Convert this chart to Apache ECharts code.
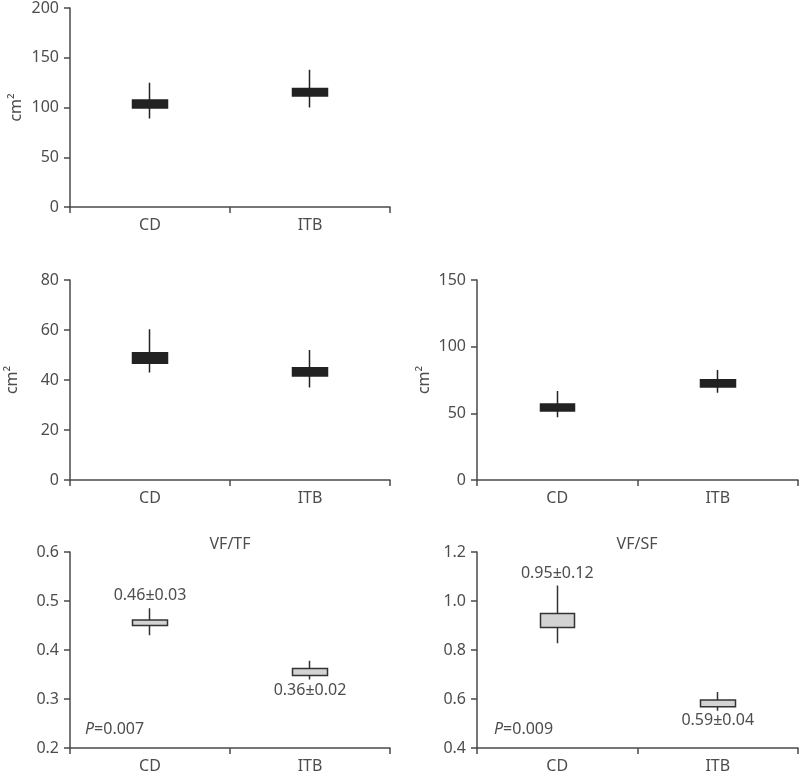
<!DOCTYPE html>
<html>
<head>
<meta charset="utf-8">
<script src="https://cdn.jsdelivr.net/npm/echarts@6/dist/echarts.min.js"></script>
<style>
html,body{margin:0;padding:0;background:#fff;}
#main{width:799px;height:774px;}
</style>
</head>
<body>
<div id="main"></div>
<script>
// ---- data ----
var categories = ['CD', 'ITB'];
// candlestick format: [boxBottom, boxTop, whiskerLow, whiskerHigh]
var totalFat = [[99.5, 107.5, 89, 125], [111.5, 119, 100, 138]];
var visceralFat = [[46.7, 50.9, 43, 60.3], [41.6, 44.9, 37, 52]];
var subcutFat = [[51.8, 57, 47, 66.7], [69.8, 75.2, 65.5, 82.5]];
var vfTf = [[0.450, 0.461, 0.430, 0.485], [0.348, 0.362, 0.340, 0.378]];
var vfSf = [[0.892, 0.949, 0.828, 1.063], [0.568, 0.596, 0.552, 0.629]];
var vfTfLabels = ['0.46\u00b10.03', '0.36\u00b10.02'];
var vfTfLabelPos = [0.512, 0.318];
var vfSfLabels = ['0.95\u00b10.12', '0.59\u00b10.04'];
var vfSfLabelPos = [1.112, 0.513];
var pValues = ['0.007', '0.009'];
var panelTitles = ['VF/TF', 'VF/SF'];
var yTicks = [
  {min: 0, max: 200, interval: 50},
  {min: 0, max: 80, interval: 20},
  {min: 0, max: 150, interval: 50},
  {min: 0.2, max: 0.6, interval: 0.1},
  {min: 0.4, max: 1.2, interval: 0.2}
];

// ---- layout ----
var FONT = 'Noto Sans';
var TXT = '#4d4d4d';
var AX = '#4a4a4a';
var grids = [
  {left: 70, top: 7, width: 320, height: 200},
  {left: 70, top: 280, width: 320, height: 200},
  {left: 477, top: 280, width: 321, height: 200},
  {left: 70, top: 552, width: 320, height: 201},
  {left: 477, top: 552, width: 321, height: 201}
];
var decimals = [0, 0, 0, 1, 1];
var names = ['cm\u00b2', 'cm\u00b2', 'cm\u00b2', '', ''];
var nameGaps = [46, 50, 45, 0, 0];

var xAxes = [], yAxes = [], series = [];
grids.forEach(function (g, i) {
  xAxes.push({
    type: 'category', gridIndex: i, data: categories,
    axisLine: {lineStyle: {color: AX, width: 1.5}},
    axisTick: {show: true, length: 6, lineStyle: {color: AX, width: 1.5}},
    axisLabel: {color: TXT, fontSize: 16, fontFamily: FONT, margin: 10},
    splitLine: {show: false}
  });
  var t = yTicks[i];
  yAxes.push({
    type: 'value', gridIndex: i, min: t.min, max: t.max, interval: t.interval,
    name: names[i], nameLocation: 'middle', nameGap: nameGaps[i], nameRotate: 90,
    nameTextStyle: {color: TXT, fontSize: 16, fontFamily: FONT},
    axisLine: {show: true, lineStyle: {color: AX, width: 1.5}},
    axisTick: {show: true, length: 6, lineStyle: {color: AX, width: 1.5}},
    axisLabel: {
      color: TXT, fontSize: 16, fontFamily: FONT, margin: 11,
      formatter: (function (d) { return function (v) { return v.toFixed(d); }; })(decimals[i])
    },
    splitLine: {show: false}
  });
});

var datasets = [totalFat, visceralFat, subcutFat, vfTf, vfSf];
datasets.forEach(function (d, i) {
  var light = i >= 3;
  series.push({
    type: 'candlestick', xAxisIndex: i, yAxisIndex: i,
    barWidth: 35,
    data: d,
    itemStyle: {
      color: light ? '#d3d3d3' : '#222',
      color0: light ? '#d3d3d3' : '#222',
      borderColor: light ? '#333' : '#222',
      borderColor0: light ? '#333' : '#222',
      borderWidth: 1.5
    },
    silent: true
  });
});

function labelSeries(idx, labels, pos) {
  return {
    type: 'scatter', xAxisIndex: idx, yAxisIndex: idx,
    symbolSize: 0, silent: true,
    itemStyle: {opacity: 1},
    data: categories.map(function (c, k) {
      return {value: [c, pos[k]], label: {formatter: labels[k]}};
    }),
    label: {show: true, position: 'inside', color: TXT, opacity: 1, fontSize: 16, fontFamily: FONT}
  };
}
series.push(labelSeries(3, vfTfLabels, vfTfLabelPos));
series.push(labelSeries(4, vfSfLabels, vfSfLabelPos));

var titles = [
  {text: panelTitles[0], left: 230, top: 536, textAlign: 'center'},
  {text: panelTitles[1], left: 637, top: 536, textAlign: 'center'},
  {text: '{i|P}=' + pValues[0], left: 85, top: 721},
  {text: '{i|P}=' + pValues[1], left: 494, top: 721}
].map(function (t) {
  t.padding = 0;
  t.textStyle = {
    color: TXT, fontSize: 16, fontWeight: 'normal', fontFamily: FONT,
    rich: {i: {fontStyle: 'italic', color: TXT, fontSize: 16, fontFamily: FONT}}
  };
  return t;
});

var chart = echarts.init(document.getElementById('main'), null, {renderer: 'canvas'});
chart.setOption({
  animation: false,
  backgroundColor: '#fff',
  title: titles,
  grid: grids,
  xAxis: xAxes,
  yAxis: yAxes,
  series: series
});
</script>
</body>
</html>
